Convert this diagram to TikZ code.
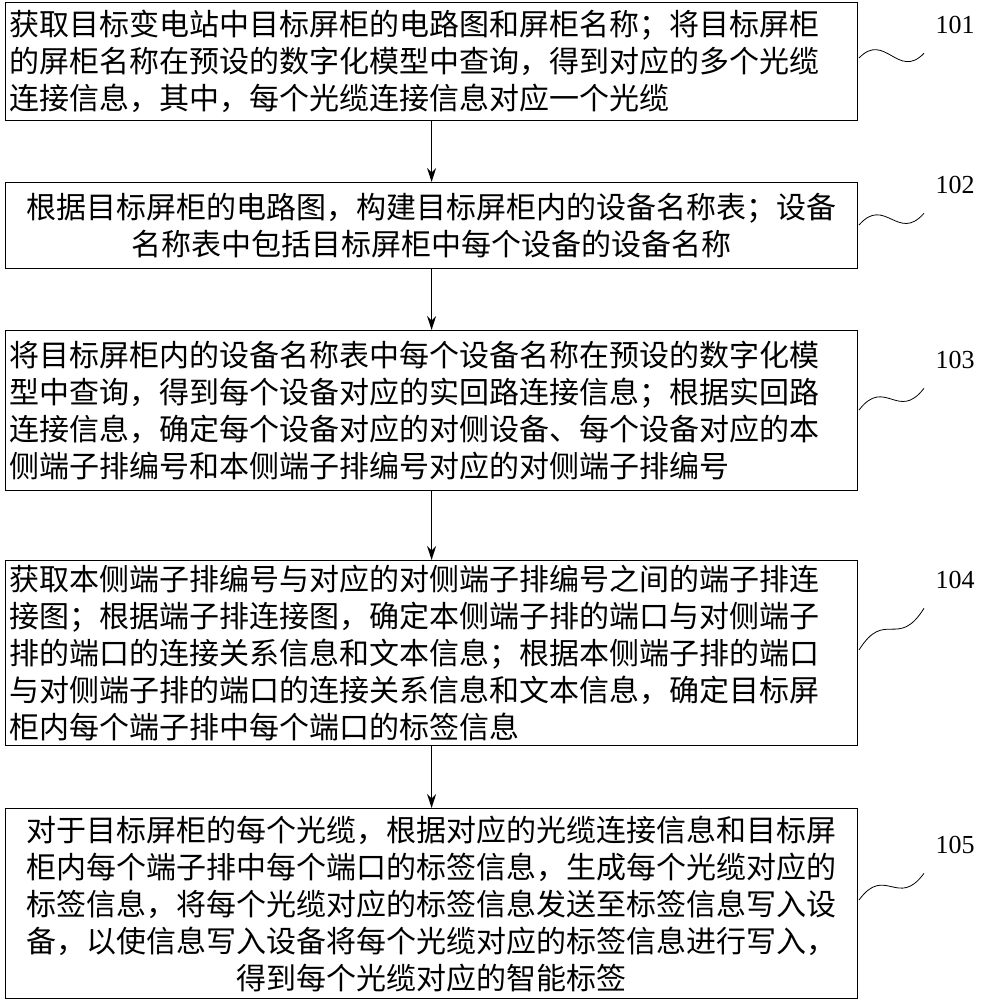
\documentclass[tikz,border=0pt]{standalone}
\usepackage{fontspec}
\setmainfont{Liberation Serif}
\newfontfamily\cjk{Noto Sans CJK SC}
\usetikzlibrary{positioning,arrows.meta,calc}

\begin{document}
\begin{tikzpicture}[x=1pt,y=-1pt,
  every node/.style={font=\cjk\fontsize{30}{37}\selectfont},
  step-box/.style={draw,line width=1.2pt,minimum width=852pt,text width=844pt,inner sep=3pt},
  step-arrow/.style={draw,line width=1.2pt,-{Stealth[length=14pt,width=9pt]}},
  step-tag/.style={font=\fontsize{26}{30}\selectfont},
  ]
  \useasboundingbox (0,0) rectangle (982,1000);

  \node [step-box,align=left,minimum height=118pt,anchor=north west] (step1) at (5,2)
    {获取目标变电站中目标屏柜的电路图和屏柜名称；将目标屏柜\\的屏柜名称在预设的数字化模型中查询，得到对应的多个光缆\\连接信息，其中，每个光缆连接信息对应一个光缆};
  \node [step-box,align=center,minimum height=86pt,anchor=north west] (step2) at (5,182)
    {根据目标屏柜的电路图，构建目标屏柜内的设备名称表；设备\\名称表中包括目标屏柜中每个设备的设备名称};
  \node [step-box,align=left,minimum height=160pt,anchor=north west] (step3) at (5,330)
    {将目标屏柜内的设备名称表中每个设备名称在预设的数字化模\\型中查询，得到每个设备对应的实回路连接信息；根据实回路\\连接信息，确定每个设备对应的对侧设备、每个设备对应的本\\侧端子排编号和本侧端子排编号对应的对侧端子排编号};
  \node [step-box,align=left,minimum height=185pt,anchor=north west] (step4) at (5,560)
    {获取本侧端子排编号与对应的对侧端子排编号之间的端子排连\\接图；根据端子排连接图，确定本侧端子排的端口与对侧端子\\排的端口的连接关系信息和文本信息；根据本侧端子排的端口\\与对侧端子排的端口的连接关系信息和文本信息，确定目标屏\\柜内每个端子排中每个端口的标签信息};
  \node [step-box,align=center,minimum height=190pt,anchor=north west] (step5) at (5,808)
    {对于目标屏柜的每个光缆，根据对应的光缆连接信息和目标屏\\柜内每个端子排中每个端口的标签信息，生成每个光缆对应的\\标签信息，将每个光缆对应的标签信息发送至标签信息写入设\\备，以使信息写入设备将每个光缆对应的标签信息进行写入，\\得到每个光缆对应的智能标签};

  \draw [step-arrow] (step1) -- (step2);
  \draw [step-arrow] (step2) -- (step3);
  \draw [step-arrow] (step3) -- (step4);
  \draw [step-arrow] (step4) -- (step5);

  % step numbers with wavy leaders
  \foreach \n/\ty/\ly in {1/25/58, 2/185/225, 3/360/410, 4/580/650, 5/845/900} {
    \node [step-tag] (tag\n) at (955,\ty) {10\n};
    \coordinate (lead\n) at (859,\ly);
    \draw [line width=0.8pt] (lead\n) .. controls ($(lead\n)!0.4!($(tag\n.south west)+(-8,16)$)+(0,-25)$) and ($(lead\n)!0.6!($(tag\n.south west)+(-8,16)$)+(0,25)$) .. ($(tag\n.south west)+(-8,16)$);
  }
\end{tikzpicture}
\end{document}
